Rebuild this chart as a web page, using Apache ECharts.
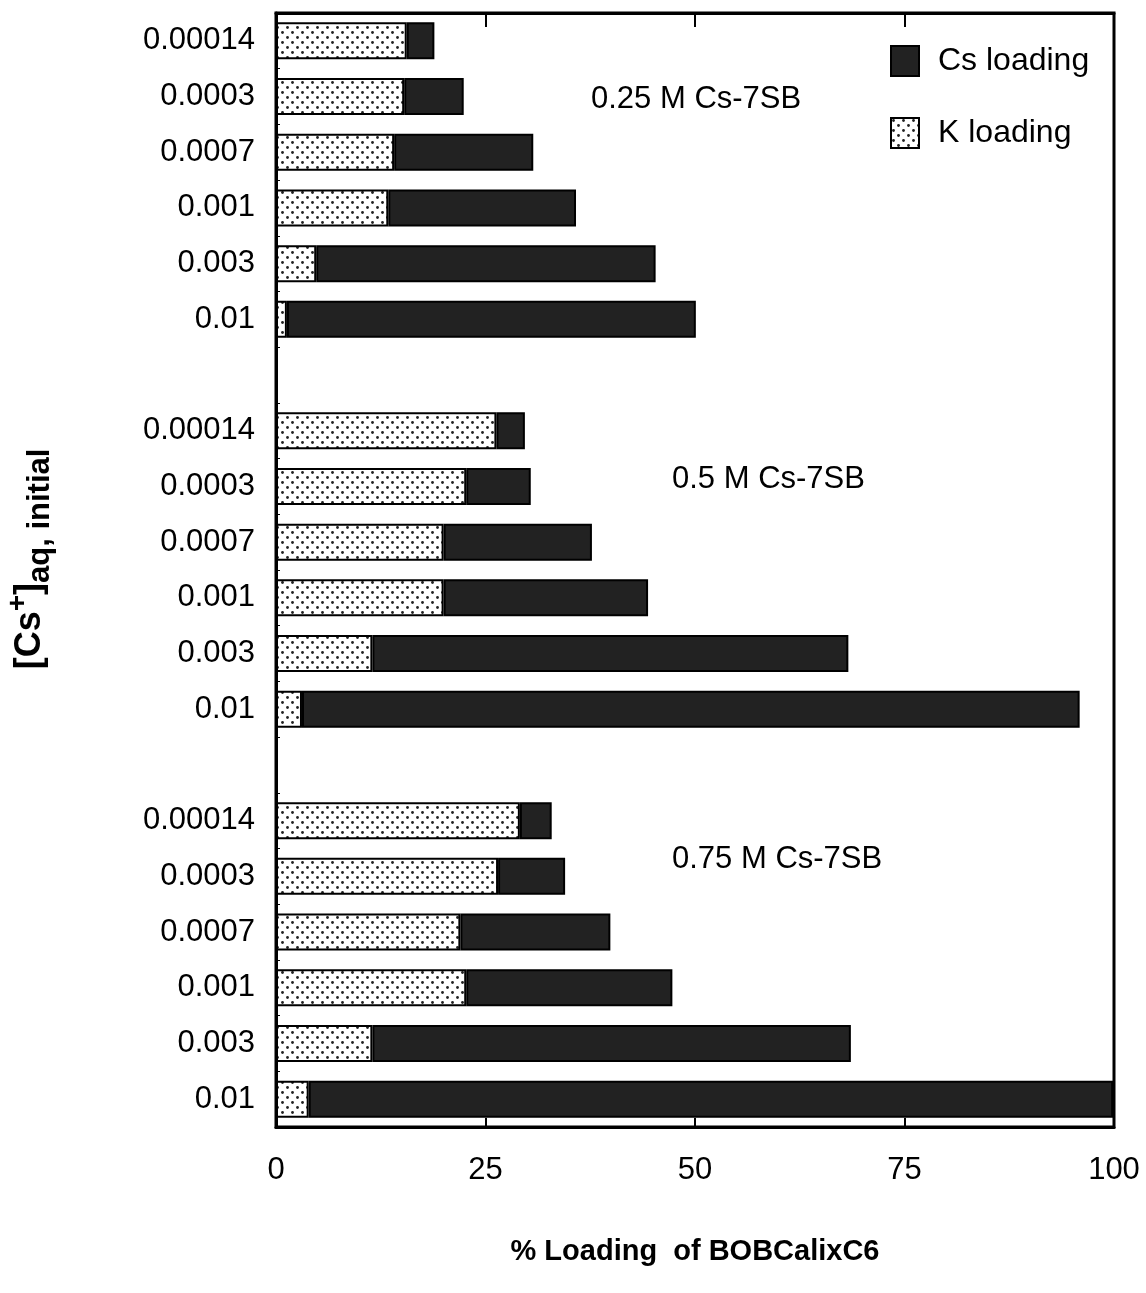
<!DOCTYPE html>
<html>
<head>
<meta charset="utf-8">
<script src="https://cdn.jsdelivr.net/npm/echarts@6/dist/echarts.min.js"></script>
<style>
  html, body { margin: 0; padding: 0; background: #fff; }
  #chart { width: 1146px; height: 1293px; }
</style>
</head>
<body>
<div id="chart"></div>
<script>
// rows top to bottom, '' = empty spacer slot between groups
var categories = [
  '0.00014', '0.0003', '0.0007', '0.001', '0.003', '0.01', '',
  '0.00014', '0.0003', '0.0007', '0.001', '0.003', '0.01', '',
  '0.00014', '0.0003', '0.0007', '0.001', '0.003', '0.01'
];
var kLoading = [
  15.6, 15.3, 14.1, 13.4, 4.8, 1.3, null,
  26.3, 22.7, 20.0, 20.0, 11.5, 3.1, null,
  29.1, 26.5, 22.0, 22.7, 11.5, 3.9
];
var csLoading = [
  3.3, 7.1, 16.6, 22.4, 40.5, 48.8, null,
  3.4, 7.7, 17.7, 24.4, 56.8, 92.8, null,
  3.8, 8.0, 17.9, 24.6, 57.1, 96.0
];
var groupLabels = ['0.25 M Cs-7SB', '0.5 M Cs-7SB', '0.75 M Cs-7SB'];
var xTicks = [0, 25, 50, 75, 100];

var FONT = 'Liberation Sans, Arial, sans-serif';

// dotted fill like the old excel pattern
function dotPattern() {
  var c = document.createElement('canvas');
  c.width = 10; c.height = 10;
  var ctx = c.getContext('2d');
  ctx.fillStyle = '#fff';
  ctx.fillRect(0, 0, 10, 10);
  ctx.fillStyle = '#222';
  [[2.5, 2.5], [7.5, 7.5]].forEach(function (p) {
    ctx.beginPath();
    ctx.arc(p[0], p[1], 1.4, 0, Math.PI * 2);
    ctx.fill();
  });
  return c;
}

var chart = echarts.init(document.getElementById('chart'));

var option = {
  backgroundColor: '#fff',
  animation: false,
  textStyle: { fontFamily: FONT },
  grid: {
    left: 276, right: 32, top: 13, bottom: 166,
    show: true, borderColor: '#000', borderWidth: 3
  },
  legend: {
    orient: 'vertical',
    left: 885, top: 40,
    icon: 'rect',
    itemWidth: 28, itemHeight: 30,
    itemGap: 40,
    data: ['Cs loading', 'K loading'],
    textStyle: { fontSize: 32, color: '#000', padding: [0, 0, 0, 14] }
  },
  xAxis: [{
    type: 'value',
    min: 0, max: 100, interval: 25,
    position: 'bottom',
    name: '% Loading  of BOBCalixC6',
    nameLocation: 'middle',
    nameGap: 110,
    nameTextStyle: { fontSize: 29, fontWeight: 'bold', color: '#000' },
    axisLine: { show: true, lineStyle: { color: '#000', width: 3 } },
    axisTick: { show: true, inside: true, length: 9, lineStyle: { color: '#000', width: 2 } },
    axisLabel: {
      fontSize: 31, color: '#000', margin: 28,
      formatter: function (v) { return xTicks.indexOf(v) >= 0 ? String(v) : ''; }
    },
    splitLine: { show: false }
  }, {
    type: 'value',
    min: 0, max: 100, interval: 25,
    position: 'top',
    axisLine: { show: true, lineStyle: { color: '#000', width: 3 } },
    axisTick: { show: true, inside: true, length: 14, lineStyle: { color: '#000', width: 2 } },
    axisLabel: { show: false },
    splitLine: { show: false }
  }],
  yAxis: {
    type: 'category',
    data: categories,
    inverse: true,
    axisLine: { show: true, lineStyle: { color: '#000', width: 3 } },
    axisTick: { show: true, inside: true, length: 4, lineStyle: { color: '#000', width: 1 } },
    axisLabel: { fontSize: 31, color: '#000', margin: 21, interval: 0 },
    splitLine: { show: false }
  },
  series: [{
    name: 'K loading',
    type: 'bar',
    stack: 'load',
    barWidth: 37,
    data: kLoading,
    itemStyle: {
      color: { image: dotPattern(), repeat: 'repeat' },
      borderColor: '#000', borderWidth: 2
    }
  }, {
    name: 'Cs loading',
    type: 'bar',
    stack: 'load',
    barWidth: 37,
    data: csLoading,
    itemStyle: { color: '#222', borderColor: '#000', borderWidth: 2 }
  }],
  graphic: [
    { type: 'text', left: 591, top: 84, style: { text: groupLabels[0], font: '31px ' + FONT, fill: '#000' } },
    { type: 'text', left: 672, top: 464, style: { text: groupLabels[1], font: '31px ' + FONT, fill: '#000' } },
    { type: 'text', left: 672, top: 844, style: { text: groupLabels[2], font: '31px ' + FONT, fill: '#000' } },
    {
      type: 'text',
      x: 30, y: 559,
      rotation: Math.PI / 2,
      style: {
        text: '{m|[Cs}{sup|+}{m|]}{sub|aq, initial}',
        align: 'center',
        verticalAlign: 'middle',
        fill: '#000',
        rich: {
          m: { fontSize: 36, fontWeight: 'bold', fontFamily: FONT, lineHeight: 52, verticalAlign: 'middle' },
          sup: { fontSize: 28, fontWeight: 'bold', fontFamily: FONT, lineHeight: 52, verticalAlign: 'top' },
          sub: { fontSize: 31, fontWeight: 'bold', fontFamily: FONT, lineHeight: 52, verticalAlign: 'bottom' }
        }
      }
    }
  ]
};

chart.setOption(option);
</script>
</body>
</html>
